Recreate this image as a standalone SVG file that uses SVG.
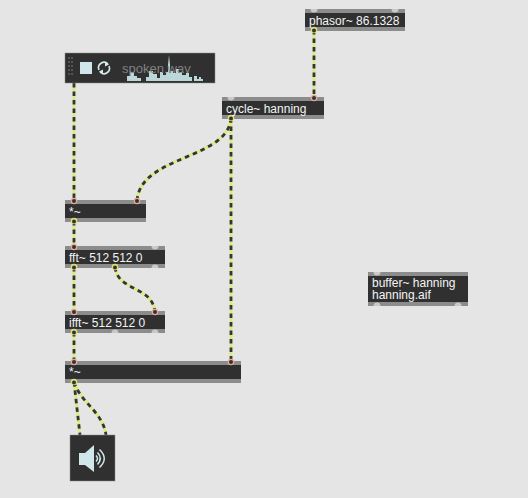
<svg xmlns="http://www.w3.org/2000/svg" width="528" height="498" viewBox="0 0 528 498">
<defs>
<style>
.bar{fill:#8c8c8c}
.body{fill:#303030}
.t{font-family:"Liberation Sans",Arial,sans-serif;font-size:12px;fill:#f4f4f4}
.in{fill:#c9c9c9}
.pi{fill:#e8a898}
.po{fill:#dde070}
.pd{fill:#333}
.w1{fill:none;stroke:#d9ec7c;stroke-width:2.8}
.w2{fill:none;stroke:#353535;stroke-width:2.8;stroke-dasharray:4.500 4}
</style>
</defs>
<rect width="528" height="498" fill="#e5e5e5"/>
<g id="connectors">
<g class="w1">
<path id="c1" d="M314 30V98"/>
<path id="c2" d="M74 83V201"/>
<path id="c3" d="M231 118C228 160 140 155 137 201"/>
<path id="c4" d="M231 118V362"/>
<path id="c5" d="M74 221V247"/>
<path id="c6" d="M74 267V312"/>
<path id="c7" d="M115 267C118 292 152 285 155 312"/>
<path id="c8" d="M74 332V362"/>
<path id="c9" d="M74 382L80 435"/>
<path id="c10" d="M74 382C80 402 103 412 106 435"/>
</g>
<g class="w2">
<path d="M314 30V98"/>
<path d="M74 83V201"/>
<path d="M231 118C228 160 140 155 137 201"/>
<path d="M231 118V362"/>
<path d="M74 221V247"/>
<path d="M74 267V312"/>
<path d="M115 267C118 292 152 285 155 312"/>
<path d="M74 332V362"/>
<path d="M74 382L80 435"/>
<path d="M74 382C80 402 103 412 106 435"/>
</g>
</g>
<g id="phasor">
<rect class="bar" x="305" y="9" width="100" height="22"/><rect class="body" x="305" y="13" width="100" height="14"/>
<path class="in" d="M310.500 9h7a3.500 3.500 0 0 1-7 0ZM391.500 9h7a3.500 3.500 0 0 1-7 0Z"/>
<circle class="po" cx="314" cy="30" r="3.300"/><circle class="pd" cx="314" cy="30.500" r="2"/>
<text class="t" x="309" y="24.500">phasor~ 86.1328</text>
</g>
<g id="cycle">
<rect class="bar" x="222" y="97" width="102" height="22"/><rect class="body" x="222" y="101" width="102" height="14"/>
<path class="in" d="M227.500 97h7a3.500 3.500 0 0 1-7 0Z"/><circle class="pi" cx="314" cy="98" r="3.300"/><circle class="pd" cx="314" cy="98" r="2"/>
<circle class="po" cx="231" cy="118" r="3.300"/><circle class="pd" cx="231" cy="118.500" r="2"/>
<text class="t" x="226" y="112.500">cycle~ hanning</text>
</g>
<g id="sfplay">
<rect x="65" y="53" width="150" height="30" fill="#303030" stroke="#8c8c8c" stroke-width="0.5"/>
<g fill="#555"><rect x="68" y="57" width="2" height="2"/><rect x="71" y="57" width="2" height="2"/><rect x="68" y="61" width="2" height="2"/><rect x="71" y="61" width="2" height="2"/><rect x="68" y="65" width="2" height="2"/><rect x="71" y="65" width="2" height="2"/><rect x="68" y="69" width="2" height="2"/><rect x="71" y="69" width="2" height="2"/><rect x="68" y="73" width="2" height="2"/><rect x="71" y="73" width="2" height="2"/></g>
<rect x="80" y="62" width="12" height="12" fill="#cfe6ea"/>
<path d="M99 70A5.500 5.500 0 0 1 108 64M109 66A5.500 5.500 0 0 1 100 72" fill="none" stroke="#d5e8ec" stroke-width="1.600"/>
<path d="M105 61.500L109 64.500L105 66.500ZM103 69.500L99 71.500L103 74.500Z" fill="#d5e8ec"/>
<path d="M127 81V76H130V72H134V76H137V78H141V81H146V77H149V71H153V74H157V78H160V72H163V75H166V72H168V65L169 55L170 65V71H173V73H176V69H179V72H182V75H186V73H189V77H192V81H194V76H197V79H199V77H201V79H203V81Z" fill="#bcd7da"/>
<text x="122" y="73" font-family="'Liberation Sans',Arial,sans-serif" font-size="13" fill="#808080">spoken.wav</text>
</g>
<g id="times1">
<rect class="bar" x="65" y="200" width="81" height="22"/><rect class="body" x="65" y="204" width="81" height="14"/>
<circle class="pi" cx="74" cy="201" r="3.300"/><circle class="pi" cx="137" cy="201" r="3.300"/><circle class="pd" cx="74" cy="201" r="2"/><circle class="pd" cx="137" cy="201" r="2"/>
<circle class="po" cx="74" cy="221" r="3.300"/><circle class="pd" cx="74" cy="221.500" r="2"/>
<text class="t" x="69" y="216">*~</text>
</g>
<g id="fft">
<rect class="bar" x="65" y="246" width="100" height="22"/><rect class="body" x="65" y="250" width="100" height="14"/>
<circle class="pi" cx="74" cy="247" r="3.300"/><circle class="pd" cx="74" cy="247" r="2"/><path class="in" d="M151.500 246h7a3.500 3.500 0 0 1-7 0ZM151.500 268h7a3.500 3.500 0 0 0-7 0Z"/>
<circle class="po" cx="74" cy="267" r="3.300"/><circle class="pd" cx="74" cy="267.500" r="2"/><circle class="po" cx="115" cy="267" r="3.300"/><circle class="pd" cx="115" cy="267.500" r="2"/>
<text class="t" x="69" y="261.500">fft~ 512 512 0</text>
</g>
<g id="ifft">
<rect class="bar" x="65" y="311" width="100" height="22"/><rect class="body" x="65" y="315" width="100" height="14"/>
<circle class="pi" cx="74" cy="312" r="3.300"/><circle class="pd" cx="74" cy="312" r="2"/><circle class="pi" cx="155" cy="312" r="3.300"/><circle class="pd" cx="155" cy="312" r="2"/>
<circle class="po" cx="74" cy="332" r="3.300"/><circle class="pd" cx="74" cy="332.500" r="2"/><path class="in" d="M111.500 333h7a3.500 3.500 0 0 0-7 0ZM151.500 333h7a3.500 3.500 0 0 0-7 0Z"/>
<text class="t" x="69" y="326.500">ifft~ 512 512 0</text>
</g>
<g id="times2">
<rect class="bar" x="65" y="361" width="176" height="22"/><rect class="body" x="65" y="365" width="176" height="14"/>
<circle class="pi" cx="74" cy="362" r="3.300"/><circle class="pd" cx="74" cy="362" r="2"/><circle class="pi" cx="231" cy="362" r="3.300"/><circle class="pd" cx="231" cy="362" r="2"/>
<circle class="po" cx="74" cy="382" r="3.300"/><circle class="pd" cx="74" cy="382.500" r="2"/>
<text class="t" x="69" y="376">*~</text>
</g>
<g id="ezdac">
<rect x="70" y="435" width="45" height="46" fill="#303030" stroke="#8c8c8c" stroke-width="0.5"/>
<path d="M79 453H85L94 445V472L85 465H79Z" fill="#cfe6ea"/>
<g fill="none" stroke="#cfe6ea" stroke-width="1.500"><path d="M96 455.500Q99 458.500 96 461.500"/><path d="M97.500 452.500Q103 458.500 97.500 464.500"/><path d="M99.500 449.500Q109 458.500 99.500 467.500"/></g>
</g>
<g id="buffer">
<rect class="bar" x="368" y="272" width="100" height="34"/><rect class="body" x="368" y="276" width="100" height="26"/>
<path class="in" d="M373.500 272h7a3.500 3.500 0 0 1-7 0ZM373.500 306h7a3.500 3.500 0 0 0-7 0ZM454.500 306h7a3.500 3.500 0 0 0-7 0Z"/>
<text class="t"><tspan x="372" y="287">buffer~ hanning</tspan><tspan x="372" y="299">hanning.aif</tspan></text>
</g>
</svg>
